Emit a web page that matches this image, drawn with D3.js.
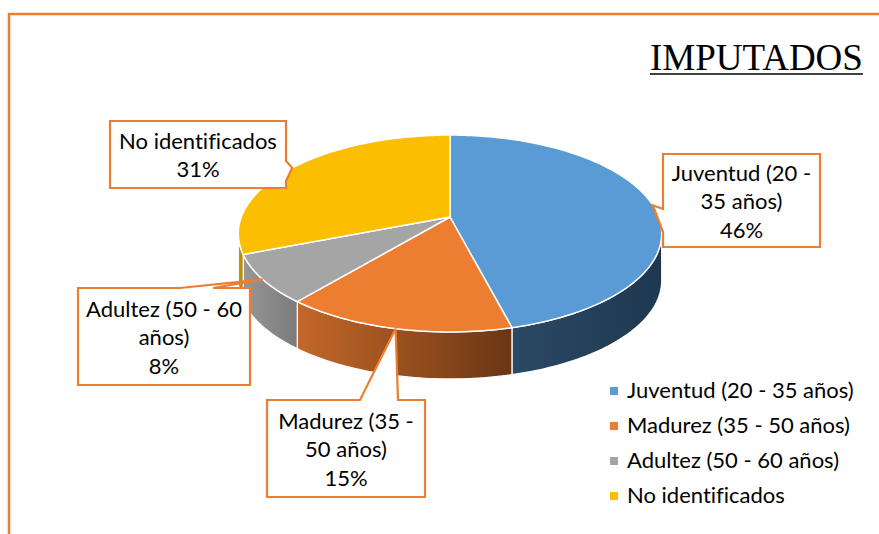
<!DOCTYPE html>
<html>
<head>
<meta charset="utf-8" />
<title>Imputados</title>
<script src="https://cdn.jsdelivr.net/npm/d3@7"></script>
<style>
  body { margin: 0; background: #fff; }
  .lbl text, .legend text { font-family: Lato, "Noto Sans", sans-serif; font-size: 22px; fill: #000; font-variant-ligatures: none; }
</style>
</head>
<body>
<svg id="chart" width="879" height="534"></svg>
<script>
// data
var categories = ["Juventud (20 - 35 años)", "Madurez (35 - 50 años)", "Adultez (50 - 60 años)", "No identificados"];
var values = [46, 15, 8, 31];
var labelLines = [["Juventud (20 -", "35 años)"], ["Madurez (35 -", "50 años)"], ["Adultez (50 - 60", "años)"], ["No identificados"]];
var topColors = ["#5B9BD5", "#ED7D31", "#A5A5A5", "#FBBE00"];
var sideColors = [["#2b4864", "#1f3850"], ["#c4682a", "#6a3614"], ["#979797", "#7b7b7b"], ["#c89a00", "#b08600"]];

var svg = d3.select("#chart");

// frame
svg.append("rect").attr("x", 9).attr("y", 14).attr("width", 900).attr("height", 600)
  .attr("fill", "none").attr("stroke", "#ED7D31").attr("stroke-width", 2.5);

// title
var title = svg.append("text").attr("x", 650).attr("y", 70)
  .style("font-family", "'Liberation Serif', 'Times New Roman', serif").style("font-size", "37px")
  .text("IMPUTADOS");
var tw = title.node().getComputedTextLength();
svg.append("line").attr("x1", 650).attr("x2", 650 + tw).attr("y1", 74).attr("y2", 74)
  .attr("stroke", "#000").attr("stroke-width", 1.6);

// 3d pie projection (perspective tilt)
var cx = 450, cy = 217, R = 208.7, A = 95.7, k = -0.1675, depth = 47;
function proj(phi, dz) {
  var u = Math.cos(phi), v = Math.sin(phi), d = 1 + k * v;
  return [cx + R * u / d, cy + A * v / d + (dz || 0)];
}
function arcPts(a0, a1, dz) {
  var n = Math.max(2, Math.ceil(Math.abs(a1 - a0) / 0.02)), pts = [];
  for (var i = 0; i <= n; i++) pts.push(proj(a0 + (a1 - a0) * i / n, dz));
  return pts;
}

var pie = d3.pie().sort(null).value(function(d) { return d; });
var arcs = pie(values).map(function(a, i) {
  return { i: i, p0: a.startAngle - Math.PI / 2, p1: a.endAngle - Math.PI / 2, mid: (a.startAngle + a.endAngle) / 2 - Math.PI / 2 };
});

var line = d3.line();
var defs = svg.append("defs");
var visL = Math.asin(-k), visR = Math.PI - Math.asin(-k);

// sides
var sides = svg.append("g");
arcs.forEach(function(a) {
  [0, 2 * Math.PI].forEach(function(off) {
    var lo = Math.max(a.p0 - off, visL), hi = Math.min(a.p1 - off, visR);
    if (hi > lo) {
      var top = arcPts(lo, hi, 0), bot = arcPts(hi, lo, depth);
      var xs = top.map(function(p) { return p[0]; });
      var gid = "side" + a.i + "_" + off;
      var g = defs.append("linearGradient").attr("id", gid).attr("gradientUnits", "userSpaceOnUse")
        .attr("x1", d3.min(xs)).attr("x2", d3.max(xs)).attr("y1", 0).attr("y2", 0);
      g.append("stop").attr("offset", 0).attr("stop-color", sideColors[a.i][0]);
      g.append("stop").attr("offset", 1).attr("stop-color", sideColors[a.i][1]);
      sides.append("path").attr("d", line(top.concat(bot)) + "Z")
        .attr("fill", "url(#" + gid + ")").attr("stroke", "#fff").attr("stroke-width", 1.2)
        .attr("stroke-linejoin", "round");
    }
  });
});

// top faces
var tops = svg.append("g");
arcs.forEach(function(a) {
  var pts = [[cx, cy]].concat(arcPts(a.p0, a.p1, 0));
  tops.append("path").attr("d", line(pts) + "Z")
    .attr("fill", topColors[a.i]).attr("stroke", "#fff").attr("stroke-width", 1.5)
    .attr("stroke-linejoin", "round");
});

// callouts: box layout + pointer edge
var boxes = [
  { x: 663, y: 154, w: 157, h: 93, side: "left", b0: 209, b1: 232 },
  { x: 267, y: 400, w: 158, h: 97, side: "top", b0: 360, b1: 398 },
  { x: 78, y: 288, w: 172, h: 97, side: "top", b0: 180, b1: 213 },
  { x: 110, y: 121, w: 176, h: 67, side: "right", b0: 161, b1: 181 }
];
var lbl = svg.append("g").attr("class", "lbl");
arcs.forEach(function(a) {
  var b = boxes[a.i], tip = proj(a.mid, 0);
  var x0 = b.x, y0 = b.y, x1 = b.x + b.w, y1 = b.y + b.h, pts;
  if (b.side === "top") pts = [[x0, y0], [b.b0, y0], tip, [b.b1, y0], [x1, y0], [x1, y1], [x0, y1]];
  else if (b.side === "left") pts = [[x0, y0], [x1, y0], [x1, y1], [x0, y1], [x0, b.b1], tip, [x0, b.b0]];
  else pts = [[x0, y0], [x1, y0], [x1, b.b0], tip, [x1, b.b1], [x1, y1], [x0, y1]];
  lbl.append("path").attr("d", line(pts) + "Z").attr("fill", "#fff")
    .attr("stroke", "#ED7D31").attr("stroke-width", 2.2).attr("stroke-linejoin", "miter");
  var lines = labelLines[a.i].concat([values[a.i] + "%"]);
  var n = lines.length, cyb = b.y + b.h / 2 + 8.5;
  lines.forEach(function(t, j) {
    lbl.append("text").attr("x", b.x + b.w / 2).attr("y", cyb + (j - (n - 1) / 2) * 28.5)
      .attr("text-anchor", "middle").text(t);
  });
});

// legend
var legend = svg.append("g").attr("class", "legend");
var ly = d3.scalePoint().domain(categories).range([398, 503]);
categories.forEach(function(c, i) {
  legend.append("rect").attr("x", 610).attr("y", ly(c) - 11).attr("width", 8).attr("height", 8)
    .attr("fill", topColors[i]);
  legend.append("text").attr("x", 627).attr("y", ly(c)).text(c);
});
</script>
</body>
</html>
